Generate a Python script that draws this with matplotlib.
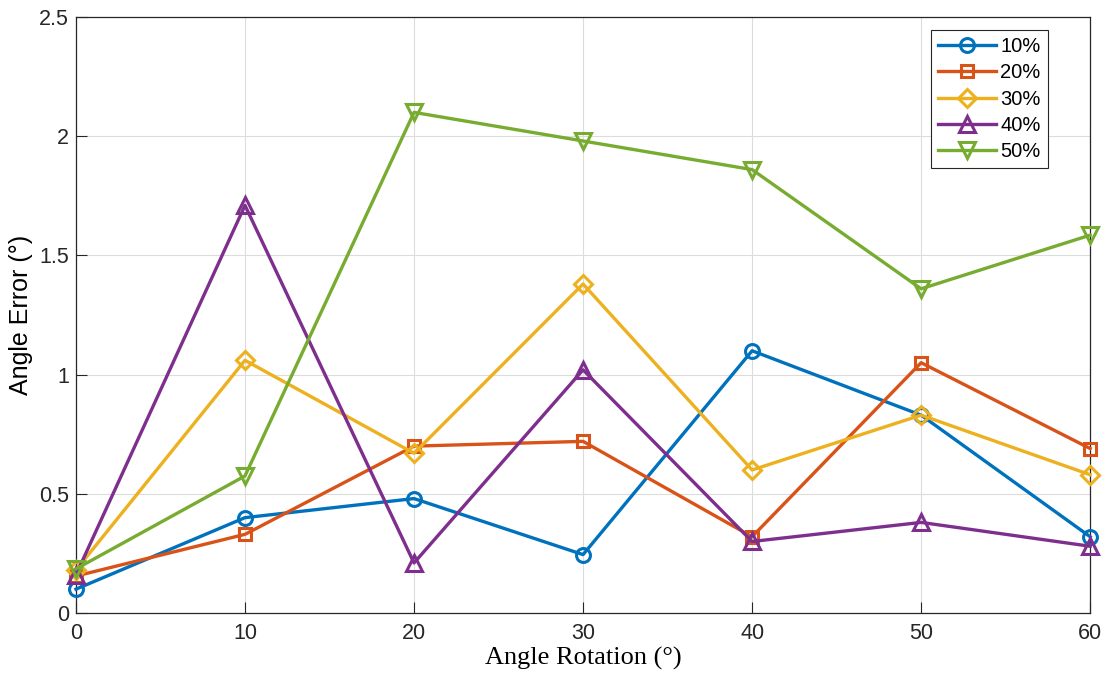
import matplotlib.pyplot as plt
import numpy as np

# angle rotation (deg) and angle error (deg) per occlusion level
angles = [0, 10, 20, 30, 40, 50, 60]
err_10 = [0.10, 0.40, 0.48, 0.245, 1.10, 0.83, 0.32]
err_20 = [0.155, 0.33, 0.70, 0.72, 0.32, 1.05, 0.69]
err_30 = [0.18, 1.06, 0.67, 1.38, 0.60, 0.83, 0.58]
err_40 = [0.16, 1.71, 0.21, 1.02, 0.30, 0.38, 0.28]
err_50 = [0.185, 0.575, 2.10, 1.98, 1.86, 1.36, 1.585]
labels = ['10%', '20%', '30%', '40%', '50%']

series = [err_10, err_20, err_30, err_40, err_50]
colors = ['#0072BD', '#D95319', '#EDB120', '#7E2F8E', '#77AC30']
markers = ['o', 's', 'D', '^', 'v']
msizes = [10, 8, 9, 12, 12]

plt.rcParams['font.family'] = ['Liberation Sans', 'DejaVu Sans']

fig = plt.figure(figsize=(11.09, 6.89), dpi=100)
ax = fig.add_axes([0.0685, 0.1103, 0.9145, 0.865])

for y, c, m, ms, lab in zip(series, colors, markers, msizes, labels):
    ax.plot(angles, y, color=c, marker=m, markersize=ms, markerfacecolor='none',
            markeredgewidth=2.2, linewidth=2.4, label=lab, clip_on=False, zorder=3)

ax.set_xlim(0, 60)
ax.set_ylim(0, 2.5)
ax.set_xticks(angles)
ax.set_yticks([0, 0.5, 1, 1.5, 2, 2.5])
ax.set_yticklabels(['0', '0.5', '1', '1.5', '2', '2.5'])
ax.tick_params(direction='in', labelsize=15.5, length=8, width=0.8, colors='#262626')
ax.tick_params(axis='y', pad=5)
ax.tick_params(axis='x', pad=7)
ax.grid(True, color='#dcdcdc', linewidth=0.8)
ax.set_axisbelow(True)
for s in ax.spines.values():
    s.set_color('#262626')
    s.set_linewidth(0.9)

ax.set_xlabel('Angle Rotation (°)', fontsize=19, family=['Liberation Serif', 'DejaVu Serif'],
              labelpad=2)
ax.set_ylabel('Angle Error (°)', fontsize=18, labelpad=4)

leg = ax.legend(loc='upper right', bbox_to_anchor=(0.958, 0.978), borderaxespad=0,
                fontsize=14.5, fancybox=False, edgecolor='#262626', framealpha=1,
                handlelength=2.9, borderpad=0.35, labelspacing=0.36, handletextpad=0.2)
leg.get_frame().set_linewidth(0.8)

fig.savefig('out.png', dpi=100)
